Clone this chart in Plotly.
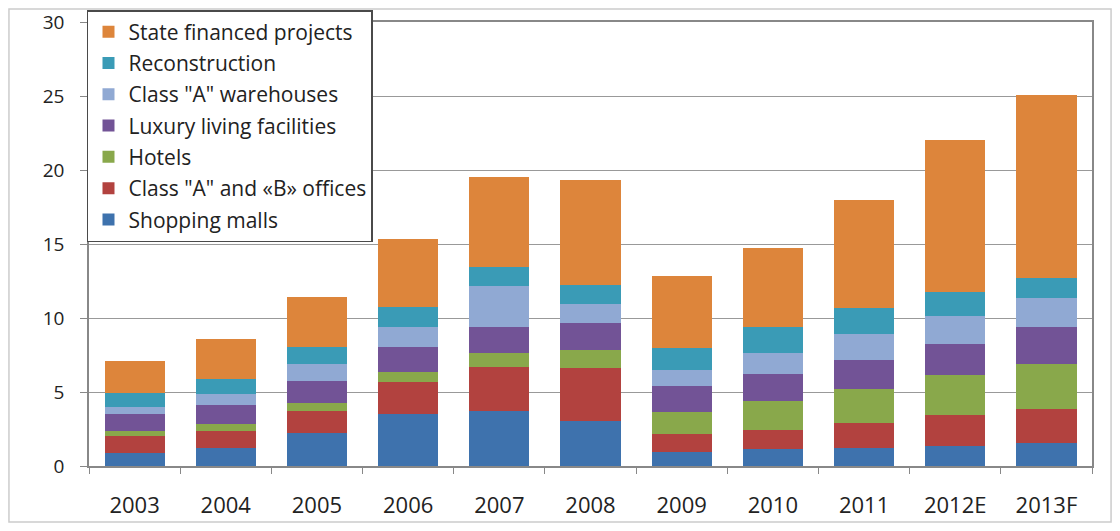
import plotly.graph_objects as go

years = ["2003", "2004", "2005", "2006", "2007", "2008", "2009", "2010", "2011", "2012E", "2013F"]

shopping_malls = [0.9, 1.25, 2.23, 3.53, 3.75, 3.04, 0.92, 1.12, 1.23, 1.34, 1.56]
offices_ab = [1.1, 1.12, 1.52, 2.16, 2.95, 3.57, 1.27, 1.29, 1.67, 2.14, 2.26]
hotels = [0.35, 0.49, 0.52, 0.69, 0.91, 1.25, 1.45, 1.97, 2.3, 2.68, 3.06]
luxury_living = [1.15, 1.27, 1.49, 1.66, 1.77, 1.81, 1.74, 1.83, 1.97, 2.1, 2.52]
warehouses_a = [0.5, 0.74, 1.12, 1.34, 2.79, 1.29, 1.12, 1.4, 1.76, 1.85, 1.94]
reconstruction = [0.9, 1.0, 1.16, 1.34, 1.25, 1.28, 1.45, 1.77, 1.74, 1.68, 1.39]
state_financed = [2.2, 2.68, 3.36, 4.62, 6.12, 7.07, 4.89, 5.38, 7.33, 10.27, 12.34]

series = [
    ("Shopping malls", shopping_malls, "#3E72AD"),
    ("Class \"A\" and «B» offices", offices_ab, "#B2423F"),
    ("Hotels", hotels, "#89A84B"),
    ("Luxury living facilities", luxury_living, "#725396"),
    ("Class \"A\" warehouses", warehouses_a, "#90A9D3"),
    ("Reconstruction", reconstruction, "#3A9BB6"),
    ("State financed projects", state_financed, "#DD853B"),
]

fig = go.Figure()
n = len(series)
for i, (name, vals, color) in enumerate(series):
    fig.add_trace(go.Bar(x=years, y=vals, name=name, legendgroup=f"g{i}",
                         legendrank=(n - i) * 10,
                         marker=dict(color=color, line=dict(width=0))))

font_family = "'Open Sans', sans-serif"

fig.update_layout(
    barmode="stack",
    bargap=0.34,
    width=1104,
    height=515,
    margin=dict(l=81, r=20, t=14, b=57, autoexpand=False),
    paper_bgcolor="white",
    plot_bgcolor="white",
    font=dict(family=font_family, size=19, color="#222222"),
    legend=dict(
        traceorder="grouped",
        tracegroupgap=1,
        x=-0.002, y=1.027, xanchor="left", yanchor="top",
        bgcolor="white",
        bordercolor="#4a4a4a",
        borderwidth=1.5,
        font=dict(size=21, color="#222222"),
        itemwidth=30,
    ),
    showlegend=True,
    xaxis=dict(
        automargin=False,
        showline=True, linecolor="#888888", linewidth=1.5, mirror=True,
        ticks="outside", tickson="boundaries", ticklen=6, tickcolor="#888888",
        tickfont=dict(size=22), showgrid=False, ticklabelstandoff=19,
    ),
    yaxis=dict(
        automargin=False,
        range=[0, 30], dtick=5,
        showline=True, linecolor="#888888", linewidth=1.5, mirror=True,
        ticks="outside", ticklen=7, tickcolor="#888888",
        showgrid=True, gridcolor="#999999", gridwidth=1.3,
        tickfont=dict(size=19), zeroline=False, ticklabelstandoff=12,
        ticklabeloverflow="allow",
    ),
    shapes=[
        dict(type="rect", xref="paper", yref="paper",
             x0=-0.0798, x1=1.019, y0=-0.126, y1=1.029,
             line=dict(color="#cccccc", width=1.5), fillcolor="rgba(0,0,0,0)", layer="below"),
    ],
)

fig.write_html("out.html")
